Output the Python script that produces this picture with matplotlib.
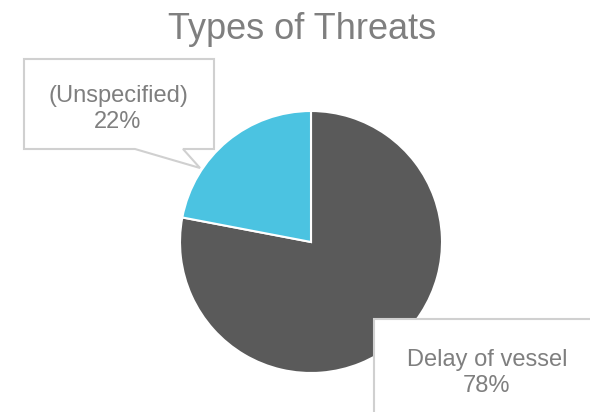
import matplotlib.pyplot as plt
from matplotlib.patches import Polygon, Rectangle

# Data
categories = ['Delay of vessel', '(Unspecified)']
shares = [78, 22]
colors = ['#5a5a5a', '#4bc3e1']

plt.rcParams['font.family'] = ['Liberation Sans', 'DejaVu Sans']

fig = plt.figure(figsize=(5.9, 4.12), dpi=100)
ax = fig.add_axes([0, 0, 1, 1])

# pie, starting at 12 o'clock going clockwise
ax.pie(shares, colors=colors, startangle=90, counterclock=False,
       center=(311, 170), radius=131,
       wedgeprops=dict(edgecolor='white', linewidth=1.5))
ax.set_xlim(0, 590)
ax.set_ylim(0, 412)
ax.set_aspect('equal')
ax.axis('off')

ax.text(302, 383, 'Types of Threats', ha='center', va='center',
        fontsize=26, color='#7f7f7f')

# callout for the small slice
box_edge = '#d0d0d0'
callout = Polygon([(24, 353), (214, 353), (214, 263), (183, 263), (200, 244),
                   (135, 263), (24, 263)], closed=True,
                  facecolor='white', edgecolor=box_edge, linewidth=1.5, zorder=3)
ax.add_patch(callout)
ax.text(118, 303, f'{categories[1]}\n{shares[1]}%', ha='center', va='center',
        fontsize=17, color='#7f7f7f', linespacing=1.25, zorder=4)

# box for the big slice (runs off the canvas)
ax.add_patch(Rectangle((374, -20), 240, 113, facecolor='white',
                       edgecolor=box_edge, linewidth=1.5, zorder=3))
ax.text(487, 39, f'{categories[0]}\n{shares[0]}%', ha='center', va='center',
        fontsize=17, color='#7f7f7f', linespacing=1.25, zorder=4)

fig.savefig('out.png', dpi=100)
